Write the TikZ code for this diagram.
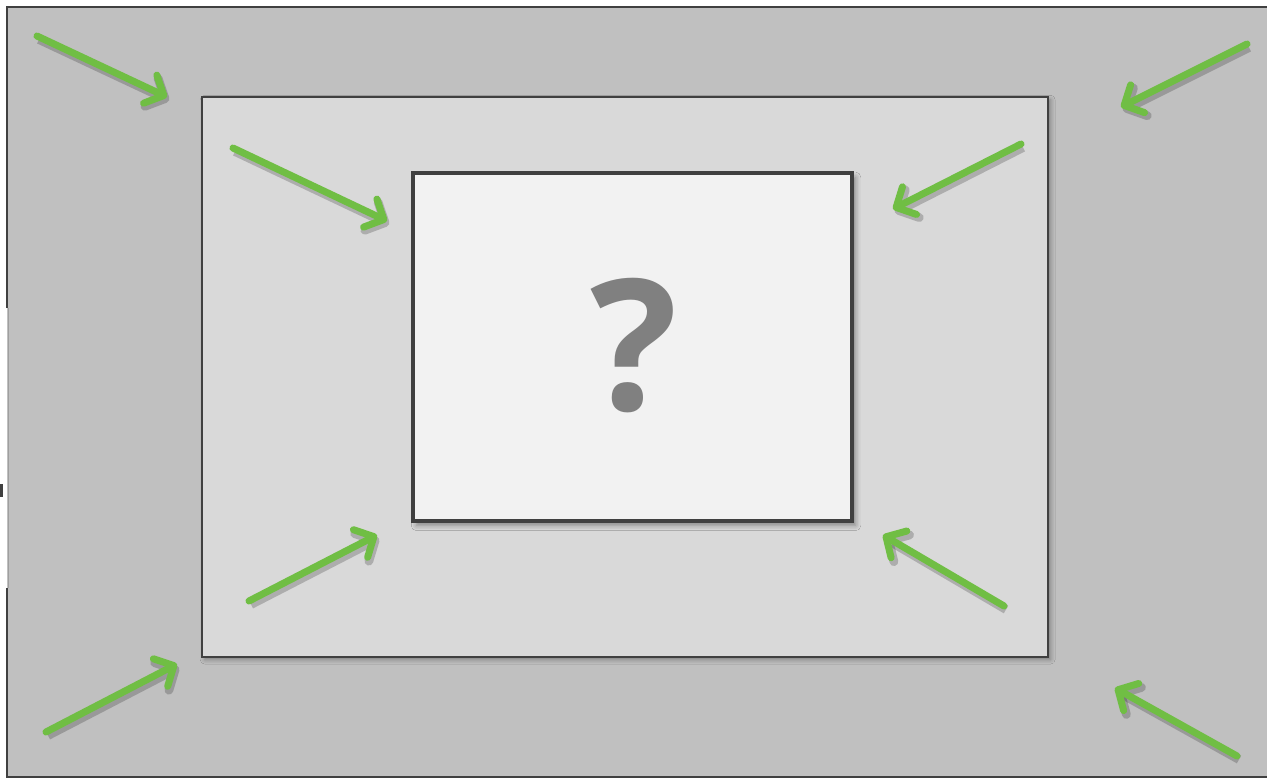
\documentclass[tikz,border=0pt]{standalone}
\usepackage{fontspec}
\usepackage{tikz}
\usetikzlibrary{
  arrows.meta,
  shadows.blur
}
\usepackage{xcolor}
\newfontfamily\askfont{Open Sans}
\definecolor{outerfill}{RGB}{192, 192, 192}
\definecolor{midfill}{RGB}{217, 217, 217}
\definecolor{innerfill}{RGB}{242, 242, 242}
\definecolor{edgeclr}{RGB}{64, 64, 64}
\definecolor{askclr}{RGB}{128, 128, 128}
\definecolor{pushgreen}{RGB}{112, 190, 68}
\tikzset{
  % Boxes
  outerbox/.style = {fill=outerfill, draw=none},
  outeredge/.style= {draw=edgeclr, line width=1.5pt},
  midbox/.style   = {fill=midfill, draw=edgeclr, line width=1.1pt,
                     blur shadow={shadow xshift=1.5pt, shadow yshift=-1.5pt, shadow blur radius=2.5pt, shadow opacity=35}},
  innerbox/.style = {fill=innerfill, draw=edgeclr, line width=2pt,
                     blur shadow={shadow xshift=2pt, shadow yshift=-2.5pt, shadow blur radius=3pt, shadow opacity=40}},
  % Arrows
  push/.style     = {draw=pushgreen, line width=4pt, line cap=round,
                     -{Straight Barb[length=0.3cm, width=0.62cm, line cap=round, line join=round]},
                     preaction={draw=black, opacity=0.2, line width=5pt,
                                transform canvas={shift={(0.04cm,-0.07cm)}}}},
  % Label
  asklabel/.style = {font=\askfont\bfseries\fontsize{104}{104}\selectfont, text=askclr, inner sep=0pt},
}
\begin{document}
\begin{tikzpicture}[x=0.02cm, y=-0.02cm]
  \clip (0,0) rectangle (1267,779);
  % Outer area
  \fill[white] (0,0) rectangle (1267,779);
  \path[outerbox] (7,7) rectangle (1280,777);
  \draw[outeredge] (7,308) -- (7,7) -- (1280,7);
  \draw[outeredge] (7,588) -- (7,777) -- (1280,777);
  \draw[edgeclr!50, line width=0.5pt] (8,308) -- (8,588);
  \fill[edgeclr] (0,484) rectangle (3,497);
  % Middle and inner boxes
  \draw[midbox] (202,97) rectangle (1048,657);
  \draw[innerbox] (413,173) rectangle (852,521);
  \node[asklabel] (ask) at (634,346) {?};
  % Arrow ends
  \coordinate (a1s) at (37,36);    \coordinate (a1e) at (167,97);
  \coordinate (a2s) at (1247,44);  \coordinate (a2e) at (1121,107);
  \coordinate (a3s) at (233,148);  \coordinate (a3e) at (387,221);
  \coordinate (a4s) at (1021,144); \coordinate (a4e) at (893,209);
  \coordinate (a5s) at (249,601);  \coordinate (a5e) at (377,535);
  \coordinate (a6s) at (1004,606); \coordinate (a6e) at (883,535);
  \coordinate (a7s) at (46,732);   \coordinate (a7e) at (177,664);
  \coordinate (a8s) at (1237,756); \coordinate (a8e) at (1115,688);
  % Arrows
  \draw[push] (a1s) -- (a1e);
  \draw[push] (a2s) -- (a2e);
  \draw[push] (a3s) -- (a3e);
  \draw[push] (a4s) -- (a4e);
  \draw[push] (a5s) -- (a5e);
  \draw[push] (a6s) -- (a6e);
  \draw[push] (a7s) -- (a7e);
  \draw[push] (a8s) -- (a8e);
\end{tikzpicture}
\end{document}
